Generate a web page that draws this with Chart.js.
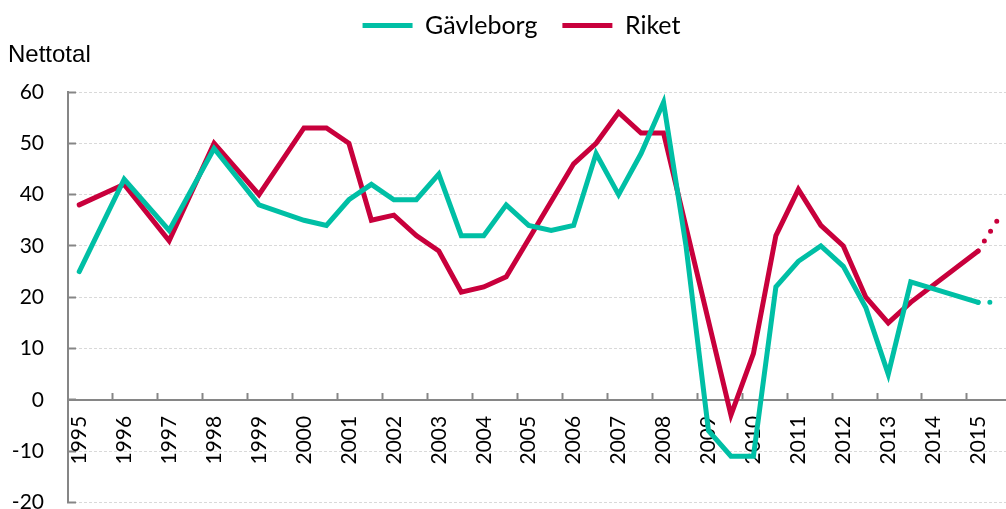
<!DOCTYPE html>
<html>
<head>
<meta charset="utf-8">
<script src="https://cdn.jsdelivr.net/npm/chart.js@4.4.1/dist/chart.umd.min.js"></script>
<style>
  html, body { margin: 0; padding: 0; background: #fff; overflow: hidden; }
  #wrap { width: 1050px; height: 547px; }
</style>
</head>
<body>
<div id="wrap"><canvas id="nettoChart" width="1050" height="547"></canvas></div>
<script>
// Half-year periods; only every second one carries a year label
const periods = [
    '1995', '', '1996', '', '1997', '', '1998', '', '1999', '',
    '2000', '', '2001', '', '2002', '', '2003', '', '2004', '',
    '2005', '', '2006', '', '2007', '', '2008', '', '2009', '',
    '2010', '', '2011', '', '2012', '', '2013', '', '2014', '',
    '2015', ''
];

// Nettotal per period (null = no observation, line spans the gap)
const gavleborg = [
    25, null, 43, null, 33, null, 49, null, 38, null,
    35, 34, 39, 42, 39, 39, 44, 32, 32, 38,
    34, 33, 34, 48, 40, 48, 58, 30, -6, -11,
    -11, 22, 27, 30, 26, 18, 5, 23, null, null,
    19, 19
];
const riket = [
    38, null, 42, null, 31, null, 50, null, 40, null,
    53, 53, 50, 35, 36, 32, 29, 21, 22, 24,
    null, null, 46, 50, 56, 52, 52, null, null, -3,
    9, 32, 41, 34, 30, 20, 15, 19, null, null,
    29, 36
];

const yTicks = { min: -20, max: 60, step: 10 };
const forecastIndex = 41; // last period is a prognosis, drawn dotted

const tealColor = '#00BFA5';
const redColor = '#C8003C';
const axisGray = '#868686';

const dotted = ctx => ctx.p1DataIndex === forecastIndex ? [0, 11.7] : undefined;

const ctx = document.getElementById('nettoChart');
new Chart(ctx, {
    type: 'line',
    data: {
        labels: periods,
        datasets: [{
            label: 'Gävleborg',
            data: gavleborg,
            borderColor: tealColor,
            backgroundColor: tealColor,
            borderWidth: 5,
            borderCapStyle: 'round',
            pointRadius: 0,
            tension: 0,
            spanGaps: true,
            segment: { borderDash: dotted }
        }, {
            label: 'Riket',
            data: riket,
            borderColor: redColor,
            backgroundColor: redColor,
            borderWidth: 5,
            borderCapStyle: 'round',
            pointRadius: 0,
            tension: 0,
            spanGaps: true,
            segment: { borderDash: dotted }
        }]
    },
    options: {
        responsive: false,
        devicePixelRatio: 1,
        animation: false,
        layout: { padding: { top: -12, left: 8, right: 15, bottom: 18 } },
        plugins: {
            legend: {
                position: 'top',
                weight: 1000,
                labels: {
                    usePointStyle: true,
                    pointStyle: 'line',
                    pointStyleWidth: 50,
                    padding: 25,
                    color: '#000',
                    font: { family: 'Lato', size: 25 }
                }
            },
            title: {
                display: true,
                text: 'Nettotal',
                align: 'start',
                weight: 900, // below the legend
                color: '#000',
                font: { family: 'Liberation Sans', size: 24, weight: 'normal' },
                padding: { top: -7, bottom: 22.2 }
            },
            tooltip: { enabled: false }
        },
        scales: {
            x: {
                type: 'category',
                offset: true,
                position: { y: 0 },
                ticks: {
                    autoSkip: false,
                    minRotation: 90,
                    maxRotation: 90,
                    padding: 24,
                    color: '#000',
                    font: { family: 'Lato', size: 21 }
                },
                grid: {
                    offset: true,
                    drawOnChartArea: false,
                    drawTicks: true,
                    tickLength: -8,
                    tickWidth: 2,
                    tickColor: c => (c.index > 0 && c.index % 2 === 0) ? axisGray : 'transparent'
                },
                border: { color: axisGray, width: 2 },
                afterFit: s => { s.height = 0; }
            },
            y: {
                min: yTicks.min,
                max: yTicks.max,
                ticks: {
                    stepSize: yTicks.step,
                    padding: 32,
                    color: '#000',
                    font: { family: 'Lato', size: 21 }
                },
                grid: {
                    color: '#d9d9d9',
                    lineWidth: 1,
                    tickLength: -8,
                    tickWidth: 2,
                    tickColor: axisGray
                },
                border: { color: axisGray, width: 2, dash: [3, 2] },
                afterFit: s => { s.width = 60; }
            }
        }
    }
});
</script>
</body>
</html>
